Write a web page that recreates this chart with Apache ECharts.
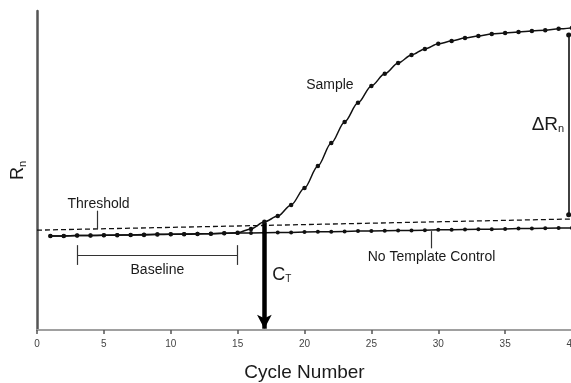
<!DOCTYPE html>
<html>
<head>
<meta charset="utf-8">
<script src="https://cdn.jsdelivr.net/npm/echarts@6/dist/echarts.min.js"></script>
<style>
  html, body { margin: 0; padding: 0; background: #fff; }
  #chart { width: 571px; height: 383px; }
</style>
</head>
<body>
<div id="chart"></div>
<script>
// Amplification plot: reporter signal (Rn) per PCR cycle
const cycles = [1, 2, 3, 4, 5, 6, 7, 8, 9, 10, 11, 12, 13, 14, 15, 16, 17, 18, 19, 20,
                21, 22, 23, 24, 25, 26, 27, 28, 29, 30, 31, 32, 33, 34, 35, 36, 37, 38, 39, 40];
const sampleRn = [29.5, 29.5, 29.6, 29.6, 29.7, 29.7, 29.8, 29.8, 29.9, 30.0,
                  30.0, 30.1, 30.2, 30.3, 30.5, 31.7, 33.9, 35.7, 39.2, 44.5,
                  51.4, 58.6, 65.2, 71.2, 76.5, 80.3, 83.7, 86.2, 88.1, 89.7,
                  90.6, 91.5, 92.2, 92.8, 93.1, 93.4, 93.7, 94.0, 94.4, 94.7];
const ntcRn = [29.5, 29.5, 29.6, 29.6, 29.7, 29.8, 29.8, 29.9, 30.0, 30.0,
               30.1, 30.2, 30.2, 30.3, 30.4, 30.4, 30.5, 30.6, 30.6, 30.7,
               30.8, 30.8, 30.9, 31.0, 31.0, 31.1, 31.2, 31.2, 31.3, 31.4,
               31.4, 31.5, 31.6, 31.6, 31.7, 31.8, 31.8, 31.9, 32.0, 32.0];
const thresholdCycles = [0, 40];
const thresholdRn = [31.3, 34.8];
const xTicks = [0, 5, 10, 15, 20, 25, 30, 35, 40];

// Annotated quantities
const ctCycle = 17;               // threshold cycle
const baselineStart = 3;          // baseline cycle range
const baselineEnd = 15;
const deltaCycle = 39.75;         // where the ΔRn span is drawn
const deltaLow = 36.1;
const deltaHigh = 92.5;

const textFont = '"Liberation Sans", Arial, Helvetica, sans-serif';
const ink = '#1a1a1a';

const ctRn = sampleRn[cycles.indexOf(ctCycle)];

function pairs(xs, ys) { return xs.map((x, i) => [x, ys[i]]); }

function seg(x1, y1, x2, y2, style, s1, s2, size) {
  return [
    { coord: [x1, y1], symbol: s1 || 'none', symbolSize: size || 4, lineStyle: style },
    { coord: [x2, y2], symbol: s2 || 'none', symbolSize: size || 4 }
  ];
}

function note(x, y, text, size) {
  return {
    coord: [x, y],
    symbol: 'rect',
    symbolSize: 1,
    itemStyle: { color: 'rgba(0,0,0,0)' },
    label: {
      show: true, position: 'inside', formatter: text,
      fontFamily: textFont, fontSize: size || 14, color: ink
    }
  };
}

const thin = { color: '#333', width: 1.2, type: 'solid' };

const chart = echarts.init(document.getElementById('chart'), null, { renderer: 'canvas' });

chart.setOption({
  animation: false,
  backgroundColor: '#fff',
  grid: { left: 37, top: 11, width: 535, height: 319, outerBoundsMode: 'none', containLabel: false },
  xAxis: [
    {
      type: 'value', min: 0, max: 40, interval: 5, position: 'bottom',
      name: 'Cycle Number', nameLocation: 'middle', nameGap: 33,
      nameTextStyle: { fontFamily: textFont, fontSize: 19, color: ink },
      axisLine: { show: true, onZero: false, lineStyle: { color: '#6e6e6e', width: 2 } },
      axisTick: { show: true, length: 4, lineStyle: { color: '#555', width: 1.5 } },
      axisLabel: {
        fontFamily: textFont, fontSize: 10, color: '#444', margin: 9,
        formatter: v => (xTicks.indexOf(v) >= 0 ? String(v) : '')
      },
      splitLine: { show: false }
    },
    {
      type: 'value', min: 0, max: 40, position: 'top',
      axisLine: { show: true, lineStyle: { color: '#a0a0a0', width: 2 } },
      axisTick: { show: false }, axisLabel: { show: false }, splitLine: { show: false }
    }
  ],
  yAxis: {
    type: 'value', min: 0, max: 100,
    name: '{r|R}{s|n}', nameLocation: 'middle', nameGap: 9, nameRotate: 90,
    nameTextStyle: {
      rich: {
        r: { fontFamily: textFont, fontSize: 18, color: ink, verticalAlign: 'top' },
        s: { fontFamily: textFont, fontSize: 11, color: ink, verticalAlign: 'top', padding: [8, 0, 0, 0] }
      }
    },
    axisLine: { show: true, lineStyle: { color: '#555', width: 2.5 } },
    axisTick: { show: false }, axisLabel: { show: false }, splitLine: { show: false }
  },
  series: [
    {
      name: 'Threshold', type: 'line', data: pairs(thresholdCycles, thresholdRn),
      symbol: 'none', z: 3,
      lineStyle: { color: '#111', width: 1.3, type: [5, 3] },
      markLine: {
        silent: true, symbol: 'none', label: { show: false },
        data: [
          // Threshold leader
          seg(4.5, 31.6, 4.5, 37.4, thin),
          // No Template Control leader
          seg(29.5, 31.0, 29.5, 25.6, thin),
          // Baseline bracket
          seg(baselineStart, 23.5, baselineEnd, 23.5, thin),
          seg(baselineStart, 26.6, baselineStart, 20.4, thin),
          seg(baselineEnd, 26.6, baselineEnd, 20.4, thin),
          // ΔRn span
          seg(deltaCycle, deltaLow, deltaCycle, deltaHigh, { color: '#111', width: 1.6, type: 'solid' }, 'circle', 'circle', 5),
          // Ct arrow
          [
            { coord: [ctCycle, ctRn - 0.3], symbol: 'none', lineStyle: { color: '#000', width: 4.5, type: 'solid' } },
            { coord: [ctCycle, 0.4], symbol: 'arrow', symbolSize: [11, 14] }
          ]
        ]
      },
      markPoint: {
        silent: true,
        data: [
          note(21.9, 76.8, 'Sample', 14),
          note(4.6, 39.4, 'Threshold', 14),
          note(9.0, 18.8, 'Baseline', 14),
          note(29.5, 22.9, 'No Template Control', 14),
          {
            coord: [18.3, 17.2], symbol: 'rect', symbolSize: 1,
            itemStyle: { color: 'rgba(0,0,0,0)' },
            label: {
              show: true, position: 'inside', formatter: '{c|C}{t|T}',
              rich: {
                c: { fontFamily: textFont, fontSize: 18, color: ink, verticalAlign: 'top' },
                t: { fontFamily: textFont, fontSize: 10, color: ink, verticalAlign: 'top', padding: [9, 0, 0, 0] }
              }
            }
          },
          {
            coord: [38.2, 64.3], symbol: 'rect', symbolSize: 1,
            itemStyle: { color: 'rgba(0,0,0,0)' },
            label: {
              show: true, position: 'inside', formatter: '{d|ΔR}{n|n}',
              rich: {
                d: { fontFamily: textFont, fontSize: 19, color: ink, verticalAlign: 'top' },
                n: { fontFamily: textFont, fontSize: 11, color: ink, verticalAlign: 'top', padding: [9, 0, 0, 0] }
              }
            }
          }
        ]
      }
    },
    {
      name: 'No Template Control', type: 'line', data: pairs(cycles, ntcRn),
      symbol: 'circle', symbolSize: 4, z: 4,
      itemStyle: { color: '#111' },
      lineStyle: { color: '#111', width: 1.5 }
    },
    {
      name: 'Sample', type: 'line', data: pairs(cycles, sampleRn),
      smooth: 0.3, smoothMonotone: 'x',
      symbol: 'circle', symbolSize: 4.5, z: 5,
      itemStyle: { color: '#111' },
      lineStyle: { color: '#111', width: 1.5 }
    }
  ]
});
</script>
</body>
</html>
